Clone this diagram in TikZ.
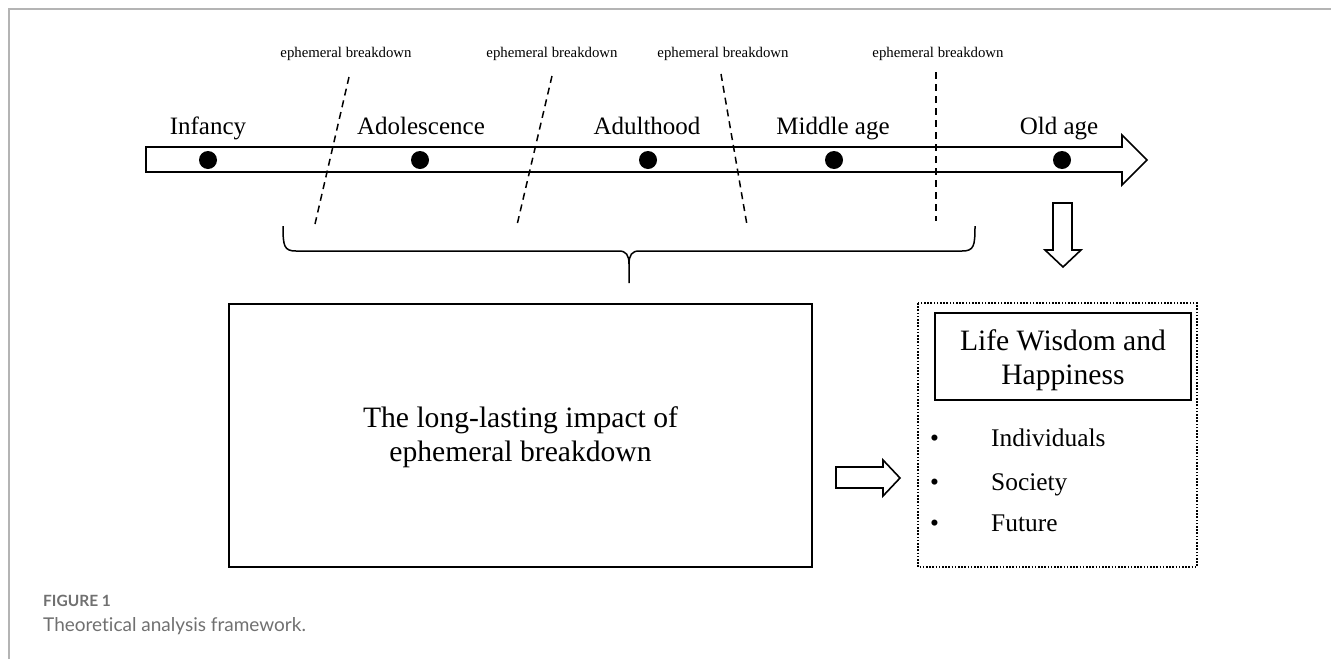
\documentclass[tikz,border=0pt]{standalone}
\usepackage{fontspec}
\setmainfont{Liberation Serif}
\newfontfamily\capfont[Ligatures={NoCommon,NoRare}]{Lato}
\definecolor{framegray}{HTML}{B4B4B4}
\definecolor{capgray}{HTML}{707070}
\tikzset{
  stage/.style={inner sep=0pt, anchor=base, font=\fontsize{25}{30}\selectfont},
  smalllab/.style={inner sep=0pt, anchor=base, font=\fontsize{14.8}{18}\selectfont},
  breakline/.style={dashed, dash pattern=on 7pt off 5pt, line width=1.5pt},
  blockarrow/.style={draw=black, line width=1.6pt, fill=white, line join=miter},
  stagedot/.style={circle, fill=black, inner sep=0pt, minimum size=18pt},
  bigtext/.style={inner sep=0pt, align=center, font=\fontsize{29.6}{33}\selectfont},
  itemtext/.style={inner sep=0pt, anchor=base west, font=\fontsize{25.4}{30}\selectfont},
}
\begin{document}
\begin{tikzpicture}[x=1pt,y=-1pt]
\useasboundingbox (0,0) rectangle (1331,659);
% frame
\draw[framegray, line width=1.5pt] (9,659) -- (9,9) -- (1331,9);

% timeline arrow
\draw[blockarrow] (146,147) -- (1122,147) -- (1122,135) -- (1147,160) -- (1122,185) -- (1122,172) -- (146,172) -- cycle;

% dots
\node[stagedot] (d1) at (208,160) {};
\node[stagedot] (d2) at (420,160) {};
\node[stagedot] (d3) at (648,160) {};
\node[stagedot] (d4) at (834,160) {};
\node[stagedot] (d5) at (1062,160) {};

% stage labels
\node[stage] (l1) at (208,134) {Infancy};
\node[stage] (l2) at (421,134) {Adolescence};
\node[stage] (l3) at (647,134) {Adulthood};
\node[stage] (l4) at (833,134) {Middle age};
\node[stage] (l5) at (1059,134) {Old age};

% ephemeral breakdown labels
\node[smalllab] (e1) at (346,57) {ephemeral breakdown};
\node[smalllab] (e2) at (552,57) {ephemeral breakdown};
\node[smalllab] (e3) at (723,57) {ephemeral breakdown};
\node[smalllab] (e4) at (938,57) {ephemeral breakdown};

% dashed separators
\coordinate (b1t) at (349,77);  \coordinate (b1b) at (315,224);
\coordinate (b2t) at (552,76);  \coordinate (b2b) at (517,225);
\coordinate (b3t) at (721,74);  \coordinate (b3b) at (747,225);
\coordinate (b4t) at (936,72);  \coordinate (b4b) at (936,221);
\draw[breakline] (b1t) -- (b1b);
\draw[breakline] (b2t) -- (b2b);
\draw[breakline] (b3t) -- (b3b);
\draw[breakline] (b4t) -- (b4b);

% brace
\coordinate (brL) at (283,226);
\coordinate (brR) at (975,226);
\coordinate (brT) at (629,283);
\draw[line width=1.5pt]
  (brL) .. controls (283,246) and (284,251) .. (296,251) -- (619,251)
  .. controls (626,251) and (629,255) .. (629,264) -- (brT);
\draw[line width=1.5pt]
  (brR) .. controls (975,246) and (974,251) .. (962,251) -- (639,251)
  .. controls (632,251) and (629,255) .. (629,264);

% down arrow
\draw[blockarrow] (1053,203) -- (1072,203) -- (1072,250) -- (1081,250) -- (1063,267) -- (1045,250) -- (1053,250) -- cycle;

% big box
\draw[line width=2pt] (229,304) rectangle (812,567);
\node[bigtext] (impact) at (520.5,437) {The long-lasting impact of\\[1pt]ephemeral breakdown};

% right arrow
\draw[blockarrow] (836,467) -- (883,467) -- (883,460) -- (900,478) -- (883,496) -- (883,488) -- (836,488) -- cycle;

% dotted outcome box
\draw[dotted, dash pattern=on 1.6pt off 1.6pt, line width=1.5pt] (918,303) rectangle (1197,567);
\draw[line width=2pt] (935,313) rectangle (1191,400);
\node[bigtext] (wisdom) at (1063,360) {Life Wisdom and\\[1pt]Happiness};

\node[itemtext] (b1) at (930,446) {•};
\node[itemtext] (i1) at (991,446) {Individuals};
\node[itemtext] (b2) at (930,490) {•};
\node[itemtext] (i2) at (991,490) {Society};
\node[itemtext] (b3) at (930,531) {•};
\node[itemtext] (i3) at (991,531) {Future};

% caption
\node[inner sep=0pt, anchor=base west, text=capgray, font=\capfont\bfseries\fontsize{15.5}{18}\selectfont] (fig) at (43,606) {FIGURE 1};
\node[inner sep=0pt, anchor=base west, text=capgray, font=\capfont\fontsize{19}{22}\selectfont] (cap) at (43,631) {Theoretical analysis framework.};
\end{tikzpicture}
\end{document}
